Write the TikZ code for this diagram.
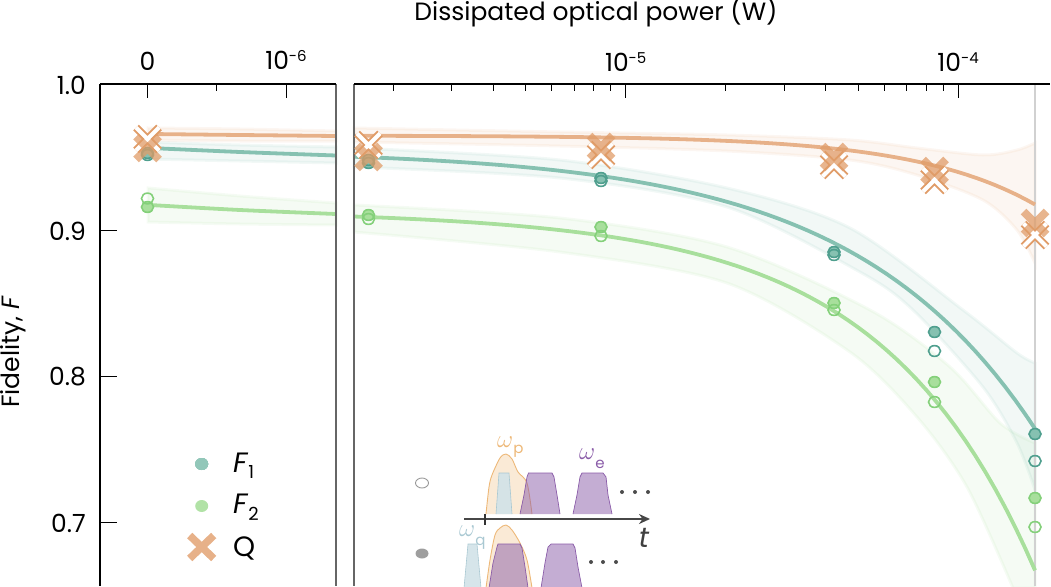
\documentclass[tikz,border=0pt]{standalone}
\usepackage{fontspec}
\setmainfont{Poppins}
\usepackage{xcolor}
\usetikzlibrary{arrows.meta}
\definecolor{fonecol}{HTML}{86C1B1}
\definecolor{fonedark}{HTML}{4F9F8E}
\definecolor{ftwocol}{HTML}{A8DF9C}
\definecolor{ftwodark}{HTML}{84D07A}
\definecolor{qcol}{HTML}{E7B189}
\definecolor{qdark}{HTML}{E09C68}
\definecolor{pumpcol}{HTML}{EDB878}
\definecolor{exccol}{HTML}{8A5CA8}
\definecolor{qubcol}{HTML}{A9C8D2}
\definecolor{qubfill}{HTML}{D3E3E8}
\tikzset{
	band/.style={fill=#1, fill opacity=0.11, draw=#1, draw opacity=0.11, line width=3pt},
	fit/.style={draw=#1, line width=3.8pt, line cap=butt},
	ptfull/.style={draw=#1, line width=1.6pt},
	ptopen/.style={draw=#1, line width=1.6pt},
	qfull/.style={draw=qdark, draw opacity=0.75, line width=8pt},
	qouter/.style={draw=qdark, line width=8pt},
	qinner/.style={draw=white, line width=4pt},
	pulse/.style={fill=#1, fill opacity=0.5, draw=#1, line width=0.7pt},
	bell/.style={fill=pumpcol, fill opacity=0.3, draw=pumpcol, line width=0.9pt},
	qpulse/.style={fill=qubfill, fill opacity=0.92, draw=qubcol, line width=0.6pt},
	lab/.style={inner sep=0pt, font=\fontsize{25}{29}\selectfont},
	biglab/.style={inner sep=0pt, anchor=base west, font=\fontsize{28}{32}\selectfont},
	axis/.style={draw=black, line width=1.3pt},
	wall/.style={draw=black!60, line width=2.4pt},
	tickmark/.style={line width=0.9pt}
}
\newcommand{\crossat}[3]{\draw[#1] (#2,#3) ++(-11.5,-11.5) -- ++(23,23) ++(-23,0) -- ++(23,-23);}
\newcommand{\expo}[1]{\raisebox{8pt}{\fontsize{15}{15}\selectfont -#1}}
\begin{document}
\begin{tikzpicture}[x=1pt, y=-1pt]
	\useasboundingbox (0,0) rectangle (1051,586);
	% bands
	\path[band=ftwocol] plot[smooth] coordinates {(148,188) (240,196) (336,203)} -- plot[smooth] coordinates {(336,225) (240,224) (148,222)} -- cycle;
	\path[band=ftwocol] plot[smooth] coordinates {(354,205) (560,218) (727,247) (870,310) (950,367) (1000,423) (1035,443)} -- (1035,588) -- (1013,588) -- plot[smooth] coordinates {(1013,588) (967,487) (917,417) (850,352) (727,283) (560,252) (354,232)} -- cycle;
	\path[band=fonecol] plot[smooth] coordinates {(148,142) (240,145) (336,147)} -- plot[smooth] coordinates {(336,163) (240,161) (148,159)} -- cycle;
	\path[band=fonecol] plot[smooth] coordinates {(354,148) (560,160) (727,188) (850,228) (963,310) (1017,353) (1035,363)} -- plot[smooth] coordinates {(1035,490) (1017,443) (983,387) (913,310) (860,272) (727,207) (560,178) (354,167)} -- cycle;
	\path[band=qcol] plot[smooth] coordinates {(148,128) (240,129) (336,131)} -- plot[smooth] coordinates {(336,141) (240,141) (148,140)} -- cycle;
	\path[band=qcol] plot[smooth] coordinates {(354,128) (560,132) (727,135) (850,140) (917,148) (983,155) (1017,150) (1035,143)} -- plot[smooth] coordinates {(1035,263) (1017,230) (983,200) (917,175) (850,160) (727,151) (560,146) (354,142)} -- cycle;
	\draw[draw=black!18, line width=2pt] (1035,84) -- (1035,586);
	% fits
	\draw[fit=ftwocol] plot[smooth] coordinates {(150,205) (240,210) (336,214)};
	\draw[fit=ftwocol, domain=354:1035, samples=70] plot (\x,{207+20*exp(0.002*(\x-958))+203*exp(0.0067*(\x-958))});
	\draw[fit=fonecol] plot[smooth] coordinates {(150,148) (240,152) (336,155.5)};
	\draw[fit=fonecol, domain=354:1035, samples=70] plot (\x,{150+183*exp(0.00546*(\x-958))});
	\draw[fit=qcol] plot[smooth] coordinates {(150,134) (240,135) (336,136)};
	\draw[fit=qcol, domain=354:1035, samples=70] plot (\x,{135.5+36.5*exp(0.00827*(\x-958))});
	% axes
	\draw[wall] (336,84) -- (336,586);
	\draw[wall] (354,84) -- (354,586);
	\draw[axis] (100,84) -- (336,84) (354,84) -- (1050,84);
	\draw[axis] (100,84) -- (100,586);
	\foreach \tx in {147.7,286,625.7,958} \draw[tickmark] (\tx,84) -- (\tx,98);
	\draw[tickmark] (216.7,84) -- (216.7,91);
	\foreach \k in {2,...,9} {
		\pgfmathsetmacro\ticka{293.2+332.5*log10(\k)}
		\pgfmathsetmacro\tickb{625.7+332.5*log10(\k)}
		\draw[tickmark] (\ticka,84) -- (\ticka,91);
		\draw[tickmark] (\tickb,84) -- (\tickb,91);
	}
	\foreach \ty/\tl in {84/1.0,230/0.9,376/0.8,522/0.7} {
		\draw[tickmark] (100,\ty) -- (117,\ty);
		\node[lab, anchor=east] (y\tl) at (86,\ty+1) {\tl};
	}
	\node[lab] (xlabel) at (596,12) {Dissipated optical power (W)};
	\node[lab, rotate=90] (ylabel) at (13,352) {Fidelity, \textit{F}};
	\node[lab] (xzero) at (147.5,61) {0};
	\node[lab] (xsix) at (286,60) {10\expo{6}};
	\node[lab] (xfive) at (625.7,62) {10\expo{5}};
	\node[lab] (xfour) at (958,62) {10\expo{4}};
	% points
	\foreach \px/\py in {147.5/207,368.5/215,601/227,834/303,934.5/382,1035/498}
		\draw[ptfull=ftwodark, fill=ftwocol] (\px,\py) ellipse [x radius=6, y radius=5.4];
	\foreach \px/\py in {147.5/198.5,368.5/219,601/236,834/310,934.5/402,1035/527}
		\draw[ptopen=ftwodark] (\px,\py) ellipse [x radius=6, y radius=5.4];
	\foreach \px/\py in {147.5/153,368.5/163,601/178,834/252,934.5/332,1035/434}
		\draw[ptfull=fonedark, fill=fonecol] (\px,\py) ellipse [x radius=6, y radius=5.4];
	\foreach \px/\py in {147.5/155,368.5/160,601/181,834/255,934.5/351,1035/461}
		\draw[ptopen=fonedark] (\px,\py) ellipse [x radius=6, y radius=5.4];
	\foreach \px/\py in {147.5/139,368.5/145,601/155,834/165,934.5/180,1035/235} {
		\crossat{qouter}{\px}{\py}
		\crossat{qinner}{\px}{\py}
	}
	\foreach \px/\py in {147.5/148,368.5/157,601/147,834/157,934.5/171,1035/223}
		\crossat{qfull}{\px}{\py}
	% legend
	\fill[fonecol!90] (201.7,464) ellipse [x radius=6.5, y radius=6];
	\fill[ftwocol!90] (201.7,506) ellipse [x radius=6.5, y radius=6];
	\draw[draw=qcol, line width=7.5pt] (201.7,547) ++(-12,-11.5) -- ++(24,23) ++(-24,0) -- ++(24,-23);
	\node[biglab] (lone) at (233,472) {\textit{F}\raisebox{-6pt}{\fontsize{18}{18}\selectfont 1}};
	\node[biglab] (ltwo) at (233,513) {\textit{F}\raisebox{-7pt}{\fontsize{18}{18}\selectfont 2}};
	\node[biglab] (lq) at (233,556) {Q};
	% inset
	\draw[draw=black!40, line width=0.9pt] (422,483) ellipse [x radius=6.5, y radius=5];
	\fill[black!38] (422,553.5) ellipse [x radius=6.5, y radius=5];
	\path[bell] plot[smooth] coordinates {(486,514) (489,487) (492,475) (500,458) (506,454) (512,459) (518,472) (527,483) (532,514)};
	\path[qpulse] (496,514) -- (499,473) -- (509,473) -- (512,514);
	\path[pulse=exccol] (520,514) -- (524,495) -- (527,477) -- (528.5,473) -- (552,473) -- (554,477) -- (557,495) -- (560,514);
	\path[pulse=exccol] (573,514) -- (577,495) -- (580,477) -- (582,473) -- (603,473) -- (606,477) -- (608,495) -- (612,514);
	\path[qpulse] (464,588) -- (468,544) -- (477,544) -- (481,588);
	\path[bell] plot[smooth] coordinates {(486,588) (490,560) (495,535) (500,528) (506,525) (512,530) (520,543) (527,560) (532,588)};
	\path[pulse=exccol] (489,588) -- (493,563) -- (497,547) -- (498,544) -- (520,544) -- (522,548) -- (525,567) -- (528,588);
	\path[pulse=exccol] (541,588) -- (545,563) -- (548,547) -- (551,544) -- (573,544) -- (575,548) -- (578,567) -- (582,588);
	\foreach \dx in {622,635,648} \fill[black!70] (\dx,492) circle (2);
	\foreach \dx in {591,603,616} \fill[black!70] (\dx,562) circle (2);
	\draw[draw=black!72, line width=1.9pt, -{Stealth[length=11pt, width=10pt]}] (464,519) -- (650,519);
	\draw[draw=black!80, line width=1.7pt] (485,514) -- (485,525);
	\node[lab, font=\fontsize{28}{28}\selectfont\itshape, text=black!75] (tlabel) at (644,538) {t};
	\node[biglab, text=pumpcol] (wp) at (497,447) {$\omega$\raisebox{-6pt}{\fontsize{15}{15}\selectfont p}};
	\node[biglab, text=exccol] (we) at (579,459) {$\omega$\raisebox{-9pt}{\fontsize{15}{15}\selectfont e}};
	\node[biglab, text=qubcol] (wq) at (459,536) {$\omega$\raisebox{-9pt}{\fontsize{15}{15}\selectfont q}};
\end{tikzpicture}
\end{document}
